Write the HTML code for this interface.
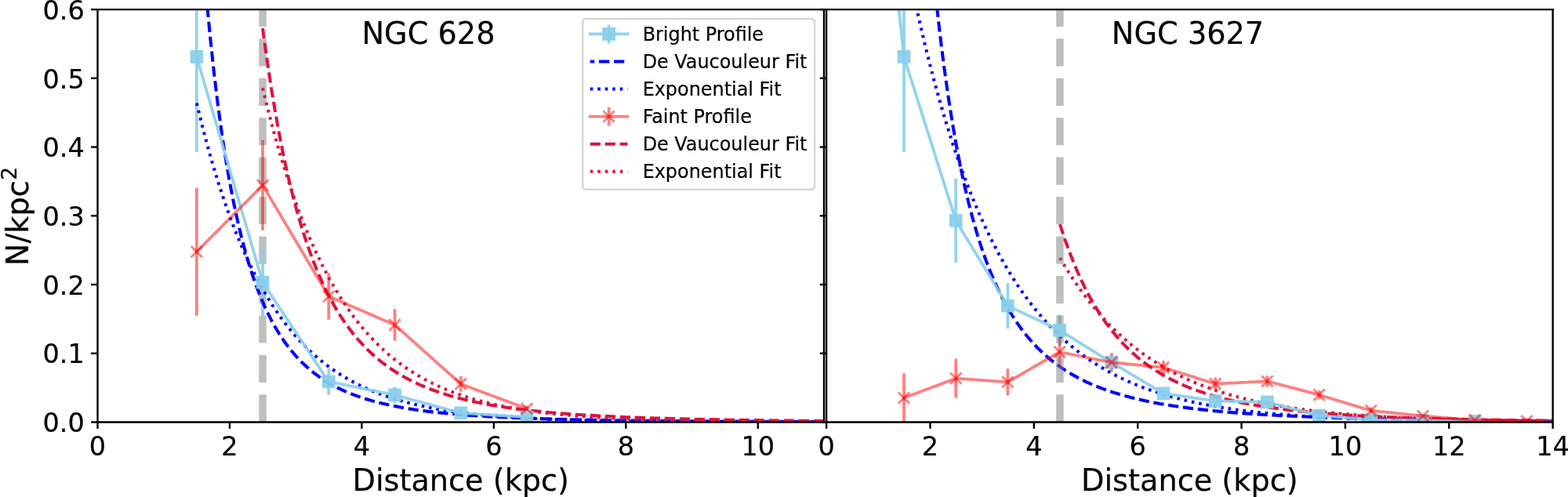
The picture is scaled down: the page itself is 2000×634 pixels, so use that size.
<!DOCTYPE html>
<html><head><meta charset="utf-8"><title>Profiles</title>
<style>html,body{margin:0;padding:0;background:#fff;}svg{display:block;}svg text{stroke:#000;stroke-width:0.08;stroke-linejoin:round;}</style>
</head><body>
<svg width="2000" height="634" viewBox="0 0 836.820 265.271" version="1.1"> <defs> <style type="text/css">*{stroke-linejoin: round; stroke-linecap: butt}</style> </defs> <g id="figure_1"> <g id="patch_1"> <path d="M 0 265.271 L 836.820 265.271 L 836.820 0 L 0 0 z " style="fill: #ffffff"/> </g> <g id="axes_1"> <g id="patch_2"> <path d="M 52.092 225.313 L 439.748 225.313 L 439.748 5.062 L 52.092 5.062 z " style="fill: #ffffff"/> </g> <g id="matplotlib.axis_1"> <g id="xtick_1"> <g id="line2d_1"> <g> <path transform="translate(52.092 225.313)" d="M 0 0 L 0 3.5 " style="stroke: #000000"/> </g> </g> <g id="text_1"> <text style="font-size: 14px; font-family: 'DejaVu Sans', sans-serif; text-anchor: middle" x="52.092" y="242.951" transform="rotate(-0 52.092 242.951)">0</text> </g> </g> <g id="xtick_2"> <g id="line2d_2"> <g> <path transform="translate(122.575 225.313)" d="M 0 0 L 0 3.5 " style="stroke: #000000"/> </g> </g> <g id="text_2"> <text style="font-size: 14px; font-family: 'DejaVu Sans', sans-serif; text-anchor: middle" x="122.575" y="242.951" transform="rotate(-0 122.575 242.951)">2</text> </g> </g> <g id="xtick_3"> <g id="line2d_3"> <g> <path transform="translate(193.058 225.313)" d="M 0 0 L 0 3.5 " style="stroke: #000000"/> </g> </g> <g id="text_3"> <text style="font-size: 14px; font-family: 'DejaVu Sans', sans-serif; text-anchor: middle" x="193.058" y="242.951" transform="rotate(-0 193.058 242.951)">4</text> </g> </g> <g id="xtick_4"> <g id="line2d_4"> <g> <path transform="translate(263.541 225.313)" d="M 0 0 L 0 3.5 " style="stroke: #000000"/> </g> </g> <g id="text_4"> <text style="font-size: 14px; font-family: 'DejaVu Sans', sans-serif; text-anchor: middle" x="263.541" y="242.951" transform="rotate(-0 263.541 242.951)">6</text> </g> </g> <g id="xtick_5"> <g id="line2d_5"> <g> <path transform="translate(334.024 225.313)" d="M 0 0 L 0 3.5 " style="stroke: #000000"/> </g> </g> <g id="text_5"> <text style="font-size: 14px; font-family: 'DejaVu Sans', sans-serif; text-anchor: middle" x="334.024" y="242.951" transform="rotate(-0 334.024 242.951)">8</text> </g> </g> <g id="xtick_6"> <g id="line2d_6"> <g> <path transform="translate(404.507 225.313)" d="M 0 0 L 0 3.5 " style="stroke: #000000"/> </g> </g> <g id="text_6"> <text style="font-size: 14px; font-family: 'DejaVu Sans', sans-serif; text-anchor: middle" x="404.507" y="242.951" transform="rotate(-0 404.507 242.951)">10</text> </g> </g> <g id="text_7"> <text style="font-size: 16px; font-family: 'DejaVu Sans', sans-serif; text-anchor: middle" x="245.920" y="262.020" transform="rotate(-0 245.920 262.020)">Distance (kpc)</text> </g> </g> <g id="matplotlib.axis_2"> <g id="ytick_1"> <g id="line2d_7"> <g> <path transform="translate(52.092 225.313)" d="M 0 0 L -3.5 0 " style="stroke: #000000"/> </g> </g> <g id="text_8"> <text style="font-size: 14px; font-family: 'DejaVu Sans', sans-serif; text-anchor: end" x="45.092" y="230.632" transform="rotate(-0 45.092 230.632)">0.0</text> </g> </g> <g id="ytick_2"> <g id="line2d_8"> <g> <path transform="translate(52.092 188.605)" d="M 0 0 L -3.5 0 " style="stroke: #000000"/> </g> </g> <g id="text_9"> <text style="font-size: 14px; font-family: 'DejaVu Sans', sans-serif; text-anchor: end" x="45.092" y="193.924" transform="rotate(-0 45.092 193.924)">0.1</text> </g> </g> <g id="ytick_3"> <g id="line2d_9"> <g> <path transform="translate(52.092 151.896)" d="M 0 0 L -3.5 0 " style="stroke: #000000"/> </g> </g> <g id="text_10"> <text style="font-size: 14px; font-family: 'DejaVu Sans', sans-serif; text-anchor: end" x="45.092" y="157.215" transform="rotate(-0 45.092 157.215)">0.2</text> </g> </g> <g id="ytick_4"> <g id="line2d_10"> <g> <path transform="translate(52.092 115.188)" d="M 0 0 L -3.5 0 " style="stroke: #000000"/> </g> </g> <g id="text_11"> <text style="font-size: 14px; font-family: 'DejaVu Sans', sans-serif; text-anchor: end" x="45.092" y="120.507" transform="rotate(-0 45.092 120.507)">0.3</text> </g> </g> <g id="ytick_5"> <g id="line2d_11"> <g> <path transform="translate(52.092 78.479)" d="M 0 0 L -3.5 0 " style="stroke: #000000"/> </g> </g> <g id="text_12"> <text style="font-size: 14px; font-family: 'DejaVu Sans', sans-serif; text-anchor: end" x="45.092" y="83.798" transform="rotate(-0 45.092 83.798)">0.4</text> </g> </g> <g id="ytick_6"> <g id="line2d_12"> <g> <path transform="translate(52.092 41.771)" d="M 0 0 L -3.5 0 " style="stroke: #000000"/> </g> </g> <g id="text_13"> <text style="font-size: 14px; font-family: 'DejaVu Sans', sans-serif; text-anchor: end" x="45.092" y="47.090" transform="rotate(-0 45.092 47.090)">0.5</text> </g> </g> <g id="ytick_7"> <g id="line2d_13"> <g> <path transform="translate(52.092 5.062)" d="M 0 0 L -3.5 0 " style="stroke: #000000"/> </g> </g> <g id="text_14"> <text style="font-size: 14px; font-family: 'DejaVu Sans', sans-serif; text-anchor: end" x="45.092" y="10.381" transform="rotate(-0 45.092 10.381)">0.6</text> </g> </g> <g id="text_15"> <g transform="translate(15.467 141.908) rotate(-90)"> <text> <tspan x="0" y="-0.562" style="font-size: 16px; font-family: 'DejaVu Sans', sans-serif">N</tspan> <tspan x="11.968" y="-0.562" style="font-size: 16px; font-family: 'DejaVu Sans', sans-serif">/</tspan> <tspan x="17.359" y="-0.562" style="font-size: 16px; font-family: 'DejaVu Sans', sans-serif">k</tspan> <tspan x="26.625" y="-0.562" style="font-size: 16px; font-family: 'DejaVu Sans', sans-serif">p</tspan> <tspan x="36.781" y="-0.562" style="font-size: 16px; font-family: 'DejaVu Sans', sans-serif">c</tspan> <tspan x="45.731" y="-6.687" style="font-size: 11.2px; font-family: 'DejaVu Sans', sans-serif">2</tspan> </text> </g> </g> </g> <g id="line2d_14"> <path d="M 140.195 225.313 L 140.195 5.062 " clip-path="url(#p777aec0cf6)" style="fill: none; stroke-dasharray: 14.736,6.372; stroke-dashoffset: 0; stroke: #808080; stroke-opacity: 0.5; stroke-width: 4"/> </g> <g id="LineCollection_1"> <path d="M 104.954 81.132 L 104.954 -1 " clip-path="url(#p777aec0cf6)" style="fill: none; stroke: #87ceeb; stroke-opacity: 0.9; stroke-width: 1.6"/> <path d="M 140.195 169.423 L 140.195 132.008 " clip-path="url(#p777aec0cf6)" style="fill: none; stroke: #87ceeb; stroke-opacity: 0.9; stroke-width: 1.6"/> <path d="M 175.437 210.835 L 175.437 196.677 " clip-path="url(#p777aec0cf6)" style="fill: none; stroke: #87ceeb; stroke-opacity: 0.9; stroke-width: 1.6"/> <path d="M 210.678 215.127 L 210.678 206.544 " clip-path="url(#p777aec0cf6)" style="fill: none; stroke: #87ceeb; stroke-opacity: 0.9; stroke-width: 1.6"/> <path d="M 245.920 222.280 L 245.920 218.612 " clip-path="url(#p777aec0cf6)" style="fill: none; stroke: #87ceeb; stroke-opacity: 0.9; stroke-width: 1.6"/> <path d="M 281.162 223.380 L 281.162 221.913 " clip-path="url(#p777aec0cf6)" style="fill: none; stroke: #87ceeb; stroke-opacity: 0.9; stroke-width: 1.6"/> </g> <g id="LineCollection_2"> <path d="M 104.954 168.469 L 104.954 100.243 " clip-path="url(#p777aec0cf6)" style="fill: none; stroke: #ff0000; stroke-opacity: 0.5; stroke-width: 1.6"/> <path d="M 140.195 122.948 L 140.195 74.823 " clip-path="url(#p777aec0cf6)" style="fill: none; stroke: #ff0000; stroke-opacity: 0.5; stroke-width: 1.6"/> <path d="M 175.437 170.670 L 175.437 145.727 " clip-path="url(#p777aec0cf6)" style="fill: none; stroke: #ff0000; stroke-opacity: 0.5; stroke-width: 1.6"/> <path d="M 210.678 181.894 L 210.678 164.948 " clip-path="url(#p777aec0cf6)" style="fill: none; stroke: #ff0000; stroke-opacity: 0.5; stroke-width: 1.6"/> <path d="M 245.920 209.075 L 245.920 200.785 " clip-path="url(#p777aec0cf6)" style="fill: none; stroke: #ff0000; stroke-opacity: 0.5; stroke-width: 1.6"/> <path d="M 281.162 219.602 L 281.162 216.668 " clip-path="url(#p777aec0cf6)" style="fill: none; stroke: #ff0000; stroke-opacity: 0.5; stroke-width: 1.6"/> </g> <g id="line2d_15"> <path d="M 110.202 -1 L 112.077 18.835 L 114.172 38.466 L 116.267 55.807 L 118.362 71.177 L 120.457 84.840 L 122.553 97.022 L 124.648 107.912 L 126.743 117.674 L 128.838 126.445 L 130.933 134.345 L 133.028 141.476 L 135.123 147.927 L 137.218 153.774 L 139.732 160.087 L 142.246 165.726 L 144.760 170.775 L 147.275 175.308 L 149.789 179.385 L 152.303 183.062 L 154.817 186.384 L 157.750 189.864 L 160.683 192.970 L 163.616 195.751 L 166.549 198.244 L 169.901 200.787 L 173.254 203.045 L 176.606 205.055 L 180.377 207.059 L 184.567 209.011 L 188.757 210.715 L 193.366 212.347 L 198.395 213.883 L 203.842 215.306 L 209.708 216.607 L 216.412 217.854 L 223.536 218.950 L 231.497 219.956 L 240.715 220.892 L 251.191 221.730 L 263.342 222.476 L 278.008 223.144 L 295.607 223.715 L 317.815 224.202 L 346.727 224.597 L 386.533 224.902 L 439.748 225.103 L 439.748 225.103 " clip-path="url(#p777aec0cf6)" style="fill: none; stroke-dasharray: 5.55,2.4; stroke-dashoffset: 3.225; stroke: #0000ff; stroke-width: 1.7"/> </g> <g id="line2d_16"> <path d="M 104.954 55.056 L 107.887 67.010 L 110.820 78.125 L 113.753 88.459 L 116.686 98.068 L 119.619 107.002 L 122.553 115.308 L 125.486 123.032 L 128.838 131.197 L 132.190 138.710 L 135.542 145.624 L 138.894 151.985 L 142.246 157.839 L 145.599 163.226 L 148.951 168.182 L 152.303 172.743 L 155.655 176.940 L 159.007 180.801 L 162.359 184.355 L 166.130 188.014 L 169.901 191.347 L 173.673 194.382 L 177.444 197.146 L 181.634 199.928 L 185.824 202.435 L 190.014 204.695 L 194.623 206.924 L 199.233 208.911 L 204.261 210.836 L 209.708 212.666 L 215.155 214.266 L 221.022 215.763 L 227.307 217.142 L 234.430 218.466 L 241.972 219.635 L 250.353 220.701 L 259.571 221.645 L 270.047 222.484 L 281.779 223.199 L 295.607 223.813 L 312.367 224.324 L 333.318 224.725 L 360.973 225.017 L 402.037 225.206 L 439.748 225.271 L 439.748 225.271 " clip-path="url(#p777aec0cf6)" style="fill: none; stroke-dasharray: 1.5,2.475; stroke-dashoffset: 0; stroke: #0000ff; stroke-width: 1.7"/> </g> <g id="line2d_17"> <path d="M 140.195 15.051 L 142.445 31.574 L 144.694 46.527 L 146.944 60.088 L 149.193 72.407 L 151.443 83.619 L 153.692 93.840 L 155.942 103.173 L 158.566 113.060 L 161.190 121.987 L 163.815 130.063 L 166.439 137.383 L 169.063 144.029 L 171.688 150.075 L 174.312 155.583 L 176.937 160.609 L 179.561 165.202 L 182.560 169.978 L 185.559 174.302 L 188.559 178.224 L 191.558 181.788 L 194.557 185.031 L 197.932 188.338 L 201.306 191.324 L 204.680 194.024 L 208.429 196.728 L 212.178 199.156 L 216.302 201.547 L 220.426 203.681 L 224.925 205.753 L 229.799 207.736 L 234.673 209.483 L 239.921 211.138 L 245.545 212.688 L 251.919 214.207 L 258.667 215.585 L 266.165 216.884 L 274.413 218.084 L 283.411 219.169 L 293.534 220.167 L 305.156 221.087 L 318.653 221.923 L 334.399 222.664 L 353.144 223.312 L 375.639 223.860 L 404.132 224.322 L 439.748 224.679 L 439.748 224.679 " clip-path="url(#p777aec0cf6)" style="fill: none; stroke-dasharray: 5.55,2.4; stroke-dashoffset: 0; stroke: #dc143c; stroke-width: 1.7"/> </g> <g id="line2d_18"> <path d="M 140.195 46.998 L 143.195 59.262 L 146.194 70.683 L 149.193 81.319 L 152.193 91.223 L 155.192 100.445 L 158.566 110.065 L 161.940 118.944 L 165.314 127.138 L 168.689 134.701 L 172.063 141.682 L 175.437 148.125 L 178.811 154.071 L 182.185 159.559 L 185.559 164.625 L 188.934 169.300 L 192.308 173.615 L 195.682 177.598 L 199.431 181.665 L 203.180 185.384 L 206.929 188.787 L 210.678 191.900 L 214.802 195.019 L 218.926 197.846 L 223.050 200.410 L 227.549 202.935 L 232.048 205.203 L 236.922 207.402 L 241.796 209.361 L 247.045 211.231 L 252.668 212.992 L 258.667 214.629 L 265.040 216.130 L 271.789 217.491 L 279.287 218.767 L 287.535 219.932 L 296.533 220.968 L 306.655 221.897 L 317.903 222.698 L 331.025 223.398 L 346.396 223.984 L 364.766 224.454 L 388.386 224.823 L 420.253 225.083 L 439.748 225.169 L 439.748 225.169 " clip-path="url(#p777aec0cf6)" style="fill: none; stroke-dasharray: 1.5,2.475; stroke-dashoffset: 0; stroke: #dc143c; stroke-width: 1.7"/> </g> <g id="line2d_19"> <path d="M 104.954 30.329 L 140.195 150.716 L 175.437 203.756 L 210.678 210.835 L 245.920 220.446 L 281.162 222.646 " clip-path="url(#p777aec0cf6)" style="fill: none; stroke: #87ceeb; stroke-opacity: 0.9; stroke-width: 1.6; stroke-linecap: square"/> <g clip-path="url(#p777aec0cf6)"> <path transform="translate(104.954 30.329)" d="M -3 3 L 3 3 L 3 -3 L -3 -3 z " style="fill: #87ceeb; fill-opacity: 0.9; stroke: #87ceeb; stroke-opacity: 0.9; stroke-linejoin: miter"/> <path transform="translate(140.195 150.716)" d="M -3 3 L 3 3 L 3 -3 L -3 -3 z " style="fill: #87ceeb; fill-opacity: 0.9; stroke: #87ceeb; stroke-opacity: 0.9; stroke-linejoin: miter"/> <path transform="translate(175.437 203.756)" d="M -3 3 L 3 3 L 3 -3 L -3 -3 z " style="fill: #87ceeb; fill-opacity: 0.9; stroke: #87ceeb; stroke-opacity: 0.9; stroke-linejoin: miter"/> <path transform="translate(210.678 210.835)" d="M -3 3 L 3 3 L 3 -3 L -3 -3 z " style="fill: #87ceeb; fill-opacity: 0.9; stroke: #87ceeb; stroke-opacity: 0.9; stroke-linejoin: miter"/> <path transform="translate(245.920 220.446)" d="M -3 3 L 3 3 L 3 -3 L -3 -3 z " style="fill: #87ceeb; fill-opacity: 0.9; stroke: #87ceeb; stroke-opacity: 0.9; stroke-linejoin: miter"/> <path transform="translate(281.162 222.646)" d="M -3 3 L 3 3 L 3 -3 L -3 -3 z " style="fill: #87ceeb; fill-opacity: 0.9; stroke: #87ceeb; stroke-opacity: 0.9; stroke-linejoin: miter"/> </g> </g> <g id="line2d_20"> <path d="M 104.954 134.356 L 140.195 98.886 L 175.437 158.198 L 210.678 173.421 L 245.920 204.930 L 281.162 218.135 " clip-path="url(#p777aec0cf6)" style="fill: none; stroke: #ff0000; stroke-opacity: 0.5; stroke-width: 1.6; stroke-linecap: square"/> <g clip-path="url(#p777aec0cf6)"> <path transform="translate(104.954 134.356)" d="M -3 3 L 3 -3 M -3 -3 L 3 3 " style="fill: #ff0000; fill-opacity: 0.5; stroke: #ff0000; stroke-opacity: 0.5; stroke-width: 1.2"/> <path transform="translate(140.195 98.886)" d="M -3 3 L 3 -3 M -3 -3 L 3 3 " style="fill: #ff0000; fill-opacity: 0.5; stroke: #ff0000; stroke-opacity: 0.5; stroke-width: 1.2"/> <path transform="translate(175.437 158.198)" d="M -3 3 L 3 -3 M -3 -3 L 3 3 " style="fill: #ff0000; fill-opacity: 0.5; stroke: #ff0000; stroke-opacity: 0.5; stroke-width: 1.2"/> <path transform="translate(210.678 173.421)" d="M -3 3 L 3 -3 M -3 -3 L 3 3 " style="fill: #ff0000; fill-opacity: 0.5; stroke: #ff0000; stroke-opacity: 0.5; stroke-width: 1.2"/> <path transform="translate(245.920 204.930)" d="M -3 3 L 3 -3 M -3 -3 L 3 3 " style="fill: #ff0000; fill-opacity: 0.5; stroke: #ff0000; stroke-opacity: 0.5; stroke-width: 1.2"/> <path transform="translate(281.162 218.135)" d="M -3 3 L 3 -3 M -3 -3 L 3 3 " style="fill: #ff0000; fill-opacity: 0.5; stroke: #ff0000; stroke-opacity: 0.5; stroke-width: 1.2"/> </g> </g> <g id="patch_3"> <path d="M 52.092 225.313 L 52.092 5.062 " style="fill: none; stroke: #000000; stroke-linejoin: miter; stroke-linecap: square"/> </g> <g id="patch_4"> <path d="M 439.748 225.313 L 439.748 5.062 " style="fill: none; stroke: #000000; stroke-linejoin: miter; stroke-linecap: square"/> </g> <g id="patch_5"> <path d="M 52.092 225.313 L 439.748 225.313 " style="fill: none; stroke: #000000; stroke-linejoin: miter; stroke-linecap: square"/> </g> <g id="patch_6"> <path d="M 52.092 5.062 L 439.748 5.062 " style="fill: none; stroke: #000000; stroke-linejoin: miter; stroke-linecap: square"/> </g> <g id="text_16"> <text style="font-size: 16px; font-family: 'DejaVu Sans', sans-serif; text-anchor: start" x="193.058" y="23.360" transform="rotate(-0 193.058 23.360)">NGC 628</text> </g> <g id="legend_1"> <g id="patch_7"> <path d="M 312.948 101.131 L 432.748 101.131 Q 434.748 101.131 434.748 99.131 L 434.748 12.062 Q 434.748 10.062 432.748 10.062 L 312.948 10.062 Q 310.948 10.062 310.948 12.062 L 310.948 99.131 Q 310.948 101.131 312.948 101.131 z " style="fill: #ffffff; opacity: 0.8; stroke: #cccccc; stroke-linejoin: miter"/> </g> <g id="LineCollection_3"> <path d="M 324.948 23.161 L 324.948 13.161 " style="fill: none; stroke: #87ceeb; stroke-opacity: 0.9; stroke-width: 1.6"/> </g> <g id="line2d_21"> <path d="M 314.948 18.161 L 334.948 18.161 " style="fill: none; stroke: #87ceeb; stroke-opacity: 0.9; stroke-width: 1.6; stroke-linecap: square"/> </g> <g id="line2d_22"> <g> <path transform="translate(324.948 18.161)" d="M -3 3 L 3 3 L 3 -3 L -3 -3 z " style="fill: #87ceeb; fill-opacity: 0.9; stroke: #87ceeb; stroke-opacity: 0.9; stroke-linejoin: miter"/> </g> </g> <g id="text_17"> <text style="font-size: 10px; font-family: 'DejaVu Sans', sans-serif; text-anchor: start" x="342.948" y="21.661" transform="rotate(-0 342.948 21.661)">Bright Profile</text> </g> <g id="line2d_23"> <path d="M 314.948 32.839 L 324.948 32.839 L 334.948 32.839 " style="fill: none; stroke-dasharray: 5.55,2.4; stroke-dashoffset: 3.225; stroke: #0000ff; stroke-width: 1.7"/> </g> <g id="text_18"> <text style="font-size: 10px; font-family: 'DejaVu Sans', sans-serif; text-anchor: start" x="342.948" y="36.339" transform="rotate(-0 342.948 36.339)">De Vaucouleur Fit</text> </g> <g id="line2d_24"> <path d="M 314.948 47.517 L 324.948 47.517 L 334.948 47.517 " style="fill: none; stroke-dasharray: 1.5,2.475; stroke-dashoffset: 0; stroke: #0000ff; stroke-width: 1.7"/> </g> <g id="text_19"> <text style="font-size: 10px; font-family: 'DejaVu Sans', sans-serif; text-anchor: start" x="342.948" y="51.017" transform="rotate(-0 342.948 51.017)">Exponential Fit</text> </g> <g id="LineCollection_4"> <path d="M 324.948 67.195 L 324.948 57.195 " style="fill: none; stroke: #ff0000; stroke-opacity: 0.5; stroke-width: 1.6"/> </g> <g id="line2d_25"> <path d="M 314.948 62.195 L 334.948 62.195 " style="fill: none; stroke: #ff0000; stroke-opacity: 0.5; stroke-width: 1.6; stroke-linecap: square"/> </g> <g id="line2d_26"> <g> <path transform="translate(324.948 62.195)" d="M -3 3 L 3 -3 M -3 -3 L 3 3 " style="fill: #ff0000; fill-opacity: 0.5; stroke: #ff0000; stroke-opacity: 0.5; stroke-width: 1.2"/> </g> </g> <g id="text_20"> <text style="font-size: 10px; font-family: 'DejaVu Sans', sans-serif; text-anchor: start" x="342.948" y="65.695" transform="rotate(-0 342.948 65.695)">Faint Profile</text> </g> <g id="line2d_27"> <path d="M 314.948 76.873 L 324.948 76.873 L 334.948 76.873 " style="fill: none; stroke-dasharray: 5.55,2.4; stroke-dashoffset: 0; stroke: #dc143c; stroke-width: 1.7"/> </g> <g id="text_21"> <text style="font-size: 10px; font-family: 'DejaVu Sans', sans-serif; text-anchor: start" x="342.948" y="80.373" transform="rotate(-0 342.948 80.373)">De Vaucouleur Fit</text> </g> <g id="line2d_28"> <path d="M 314.948 91.551 L 324.948 91.551 L 334.948 91.551 " style="fill: none; stroke-dasharray: 1.5,2.475; stroke-dashoffset: 0; stroke: #dc143c; stroke-width: 1.7"/> </g> <g id="text_22"> <text style="font-size: 10px; font-family: 'DejaVu Sans', sans-serif; text-anchor: start" x="342.948" y="95.051" transform="rotate(-0 342.948 95.051)">Exponential Fit</text> </g> </g> </g> <g id="axes_2"> <g id="patch_8"> <path d="M 441.046 225.313 L 828.702 225.313 L 828.702 5.062 L 441.046 5.062 z " style="fill: #ffffff"/> </g> <g id="matplotlib.axis_3"> <g id="xtick_7"> <g id="line2d_29"> <g> <path transform="translate(441.046 225.313)" d="M 0 0 L 0 3.5 " style="stroke: #000000"/> </g> </g> <g id="text_23"> <text style="font-size: 14px; font-family: 'DejaVu Sans', sans-serif; text-anchor: middle" x="441.046" y="242.951" transform="rotate(-0 441.046 242.951)">0</text> </g> </g> <g id="xtick_8"> <g id="line2d_30"> <g> <path transform="translate(496.425 225.313)" d="M 0 0 L 0 3.5 " style="stroke: #000000"/> </g> </g> <g id="text_24"> <text style="font-size: 14px; font-family: 'DejaVu Sans', sans-serif; text-anchor: middle" x="496.425" y="242.951" transform="rotate(-0 496.425 242.951)">2</text> </g> </g> <g id="xtick_9"> <g id="line2d_31"> <g> <path transform="translate(551.805 225.313)" d="M 0 0 L 0 3.5 " style="stroke: #000000"/> </g> </g> <g id="text_25"> <text style="font-size: 14px; font-family: 'DejaVu Sans', sans-serif; text-anchor: middle" x="551.805" y="242.951" transform="rotate(-0 551.805 242.951)">4</text> </g> </g> <g id="xtick_10"> <g id="line2d_32"> <g> <path transform="translate(607.184 225.313)" d="M 0 0 L 0 3.5 " style="stroke: #000000"/> </g> </g> <g id="text_26"> <text style="font-size: 14px; font-family: 'DejaVu Sans', sans-serif; text-anchor: middle" x="607.184" y="242.951" transform="rotate(-0 607.184 242.951)">6</text> </g> </g> <g id="xtick_11"> <g id="line2d_33"> <g> <path transform="translate(662.564 225.313)" d="M 0 0 L 0 3.5 " style="stroke: #000000"/> </g> </g> <g id="text_27"> <text style="font-size: 14px; font-family: 'DejaVu Sans', sans-serif; text-anchor: middle" x="662.564" y="242.951" transform="rotate(-0 662.564 242.951)">8</text> </g> </g> <g id="xtick_12"> <g id="line2d_34"> <g> <path transform="translate(717.943 225.313)" d="M 0 0 L 0 3.5 " style="stroke: #000000"/> </g> </g> <g id="text_28"> <text style="font-size: 14px; font-family: 'DejaVu Sans', sans-serif; text-anchor: middle" x="717.943" y="242.951" transform="rotate(-0 717.943 242.951)">10</text> </g> </g> <g id="xtick_13"> <g id="line2d_35"> <g> <path transform="translate(773.323 225.313)" d="M 0 0 L 0 3.5 " style="stroke: #000000"/> </g> </g> <g id="text_29"> <text style="font-size: 14px; font-family: 'DejaVu Sans', sans-serif; text-anchor: middle" x="773.323" y="242.951" transform="rotate(-0 773.323 242.951)">12</text> </g> </g> <g id="xtick_14"> <g id="line2d_36"> <g> <path transform="translate(828.702 225.313)" d="M 0 0 L 0 3.5 " style="stroke: #000000"/> </g> </g> <g id="text_30"> <text style="font-size: 14px; font-family: 'DejaVu Sans', sans-serif; text-anchor: middle" x="828.702" y="242.951" transform="rotate(-0 828.702 242.951)">14</text> </g> </g> <g id="text_31"> <text style="font-size: 16px; font-family: 'DejaVu Sans', sans-serif; text-anchor: middle" x="634.874" y="262.020" transform="rotate(-0 634.874 262.020)">Distance (kpc)</text> </g> </g> <g id="matplotlib.axis_4"> <g id="ytick_8"> <g id="line2d_37"> <g> <path transform="translate(441.046 225.313)" d="M 0 0 L -3.5 0 " style="stroke: #000000"/> </g> </g> </g> <g id="ytick_9"> <g id="line2d_38"> <g> <path transform="translate(441.046 188.605)" d="M 0 0 L -3.5 0 " style="stroke: #000000"/> </g> </g> </g> <g id="ytick_10"> <g id="line2d_39"> <g> <path transform="translate(441.046 151.896)" d="M 0 0 L -3.5 0 " style="stroke: #000000"/> </g> </g> </g> <g id="ytick_11"> <g id="line2d_40"> <g> <path transform="translate(441.046 115.188)" d="M 0 0 L -3.5 0 " style="stroke: #000000"/> </g> </g> </g> <g id="ytick_12"> <g id="line2d_41"> <g> <path transform="translate(441.046 78.479)" d="M 0 0 L -3.5 0 " style="stroke: #000000"/> </g> </g> </g> <g id="ytick_13"> <g id="line2d_42"> <g> <path transform="translate(441.046 41.771)" d="M 0 0 L -3.5 0 " style="stroke: #000000"/> </g> </g> </g> <g id="ytick_14"> <g id="line2d_43"> <g> <path transform="translate(441.046 5.062)" d="M 0 0 L -3.5 0 " style="stroke: #000000"/> </g> </g> </g> </g> <g id="LineCollection_5"> <path clip-path="url(#p42757beeb6)" style="fill: none; stroke: #87ceeb; stroke-opacity: 0.9; stroke-width: 1.6"/> <path d="M 482.426 81.132 L 482.426 -1 " clip-path="url(#p42757beeb6)" style="fill: none; stroke: #87ceeb; stroke-opacity: 0.9; stroke-width: 1.6"/> <path d="M 510.125 140.188 L 510.125 95.291 " clip-path="url(#p42757beeb6)" style="fill: none; stroke: #87ceeb; stroke-opacity: 0.9; stroke-width: 1.6"/> <path d="M 537.824 175.328 L 537.824 151.119 " clip-path="url(#p42757beeb6)" style="fill: none; stroke: #87ceeb; stroke-opacity: 0.9; stroke-width: 1.6"/> <path d="M 565.523 184.572 L 565.523 167.992 " clip-path="url(#p42757beeb6)" style="fill: none; stroke: #87ceeb; stroke-opacity: 0.9; stroke-width: 1.6"/> <path d="M 593.221 197.080 L 593.221 189.744 " clip-path="url(#p42757beeb6)" style="fill: none; stroke: #87ceeb; stroke-opacity: 0.9; stroke-width: 1.6"/> <path d="M 620.920 211.862 L 620.920 208.194 " clip-path="url(#p42757beeb6)" style="fill: none; stroke: #87ceeb; stroke-opacity: 0.9; stroke-width: 1.6"/> <path d="M 648.619 215.494 L 648.619 212.559 " clip-path="url(#p42757beeb6)" style="fill: none; stroke: #87ceeb; stroke-opacity: 0.9; stroke-width: 1.6"/> <path d="M 676.317 216.044 L 676.317 213.109 " clip-path="url(#p42757beeb6)" style="fill: none; stroke: #87ceeb; stroke-opacity: 0.9; stroke-width: 1.6"/> <path d="M 704.016 222.940 L 704.016 220.739 " clip-path="url(#p42757beeb6)" style="fill: none; stroke: #87ceeb; stroke-opacity: 0.9; stroke-width: 1.6"/> <path d="M 731.715 224.847 L 731.715 223.380 " clip-path="url(#p42757beeb6)" style="fill: none; stroke: #87ceeb; stroke-opacity: 0.9; stroke-width: 1.6"/> <path d="M 759.414 224.847 L 759.414 224.114 " clip-path="url(#p42757beeb6)" style="fill: none; stroke: #87ceeb; stroke-opacity: 0.9; stroke-width: 1.6"/> <path d="M 787.112 225.288 L 787.112 224.554 " clip-path="url(#p42757beeb6)" style="fill: none; stroke: #87ceeb; stroke-opacity: 0.9; stroke-width: 1.6"/> <path d="M 814.811 229.139 L 814.811 228.405 " clip-path="url(#p42757beeb6)" style="fill: none; stroke: #87ceeb; stroke-opacity: 0.9; stroke-width: 1.6"/> </g> <g id="LineCollection_6"> <path d="M 482.426 225.434 L 482.426 199.318 " clip-path="url(#p42757beeb6)" style="fill: none; stroke: #ff0000; stroke-opacity: 0.5; stroke-width: 1.6"/> <path d="M 510.125 212.376 L 510.125 191.541 " clip-path="url(#p42757beeb6)" style="fill: none; stroke: #ff0000; stroke-opacity: 0.5; stroke-width: 1.6"/> <path d="M 537.824 211.092 L 537.824 196.787 " clip-path="url(#p42757beeb6)" style="fill: none; stroke: #ff0000; stroke-opacity: 0.5; stroke-width: 1.6"/> <path d="M 565.523 195.503 L 565.523 180.244 " clip-path="url(#p42757beeb6)" style="fill: none; stroke: #ff0000; stroke-opacity: 0.5; stroke-width: 1.6"/> <path d="M 593.221 198.474 L 593.221 188.350 " clip-path="url(#p42757beeb6)" style="fill: none; stroke: #ff0000; stroke-opacity: 0.5; stroke-width: 1.6"/> <path d="M 620.920 199.868 L 620.920 192.532 " clip-path="url(#p42757beeb6)" style="fill: none; stroke: #ff0000; stroke-opacity: 0.5; stroke-width: 1.6"/> <path d="M 648.619 208.268 L 648.619 201.518 " clip-path="url(#p42757beeb6)" style="fill: none; stroke: #ff0000; stroke-opacity: 0.5; stroke-width: 1.6"/> <path d="M 676.317 206.507 L 676.317 200.491 " clip-path="url(#p42757beeb6)" style="fill: none; stroke: #ff0000; stroke-opacity: 0.5; stroke-width: 1.6"/> <path d="M 704.016 213.146 L 704.016 208.378 " clip-path="url(#p42757beeb6)" style="fill: none; stroke: #ff0000; stroke-opacity: 0.5; stroke-width: 1.6"/> <path d="M 731.715 220.996 L 731.715 217.328 " clip-path="url(#p42757beeb6)" style="fill: none; stroke: #ff0000; stroke-opacity: 0.5; stroke-width: 1.6"/> <path d="M 759.414 223.123 L 759.414 220.922 " clip-path="url(#p42757beeb6)" style="fill: none; stroke: #ff0000; stroke-opacity: 0.5; stroke-width: 1.6"/> <path d="M 787.112 224.921 L 787.112 223.453 " clip-path="url(#p42757beeb6)" style="fill: none; stroke: #ff0000; stroke-opacity: 0.5; stroke-width: 1.6"/> <path d="M 814.811 225.104 L 814.811 224.370 " clip-path="url(#p42757beeb6)" style="fill: none; stroke: #ff0000; stroke-opacity: 0.5; stroke-width: 1.6"/> </g> <g id="line2d_44"> <path d="M 499.483 -1 L 501.641 18.256 L 503.807 35.488 L 505.973 50.900 L 508.139 64.724 L 510.305 77.161 L 512.471 88.378 L 514.637 98.522 L 516.803 107.717 L 518.969 116.071 L 521.134 123.676 L 523.734 131.930 L 526.333 139.344 L 528.932 146.021 L 531.531 152.049 L 534.130 157.505 L 536.729 162.454 L 539.329 166.953 L 541.928 171.050 L 544.960 175.381 L 547.993 179.283 L 551.025 182.808 L 554.057 185.998 L 557.090 188.893 L 560.555 191.880 L 564.021 194.566 L 567.486 196.987 L 571.385 199.431 L 575.284 201.617 L 579.616 203.783 L 583.948 205.707 L 588.713 207.582 L 593.911 209.380 L 599.543 211.080 L 605.607 212.667 L 612.105 214.131 L 619.036 215.469 L 626.834 216.747 L 635.498 217.936 L 645.028 219.018 L 655.858 220.022 L 668.421 220.953 L 682.716 221.781 L 699.611 222.527 L 719.537 223.176 L 743.796 223.737 L 774.553 224.214 L 814.840 224.603 L 828.702 224.697 L 828.702 224.697 " clip-path="url(#p42757beeb6)" style="fill: none; stroke-dasharray: 5.55,2.4; stroke-dashoffset: 3.33; stroke: #0000ff; stroke-width: 1.7"/> </g> <g id="line2d_45"> <path d="M 487.977 -1 L 491.244 13.677 L 494.710 28.203 L 498.175 41.732 L 501.641 54.333 L 505.106 66.069 L 508.572 76.999 L 512.037 87.179 L 515.503 96.660 L 518.969 105.491 L 522.434 113.715 L 525.900 121.375 L 529.365 128.509 L 532.831 135.153 L 536.296 141.342 L 539.762 147.105 L 543.227 152.473 L 546.693 157.473 L 550.592 162.688 L 554.490 167.503 L 558.389 171.947 L 562.288 176.050 L 566.187 179.837 L 570.085 183.334 L 574.417 186.904 L 578.749 190.171 L 583.081 193.159 L 587.413 195.894 L 592.178 198.634 L 596.943 201.119 L 602.142 203.567 L 607.340 205.767 L 612.972 207.900 L 618.603 209.800 L 624.668 211.615 L 631.166 213.325 L 638.097 214.914 L 645.461 216.373 L 653.259 217.694 L 661.923 218.935 L 671.453 220.068 L 681.850 221.076 L 693.546 221.980 L 706.542 222.760 L 721.703 223.443 L 739.464 224.014 L 761.124 224.480 L 788.849 224.842 L 826.536 225.096 L 828.702 225.105 L 828.702 225.105 " clip-path="url(#p42757beeb6)" style="fill: none; stroke-dasharray: 1.5,2.475; stroke-dashoffset: 3.615; stroke: #0000ff; stroke-width: 1.7"/> </g> <g id="line2d_46"> <path d="M 565.650 119.687 L 568.283 127.669 L 570.917 134.939 L 573.551 141.569 L 576.185 147.626 L 578.819 153.166 L 581.452 158.240 L 584.416 163.448 L 587.379 168.181 L 590.342 172.488 L 593.305 176.414 L 596.268 179.998 L 599.560 183.619 L 602.852 186.902 L 606.145 189.882 L 609.766 192.850 L 613.388 195.527 L 617.338 198.154 L 621.289 200.512 L 625.569 202.798 L 629.849 204.840 L 634.458 206.798 L 639.397 208.657 L 644.664 210.402 L 650.261 212.025 L 656.516 213.600 L 663.101 215.026 L 670.344 216.365 L 678.245 217.600 L 687.135 218.758 L 697.011 219.814 L 708.205 220.779 L 721.045 221.653 L 735.860 222.428 L 753.309 223.109 L 774.380 223.697 L 800.389 224.190 L 828.702 224.540 L 828.702 224.540 " clip-path="url(#p42757beeb6)" style="fill: none; stroke-dasharray: 5.55,2.4; stroke-dashoffset: 0; stroke: #dc143c; stroke-width: 1.7"/> </g> <g id="line2d_47"> <path d="M 565.650 137.606 L 569.271 143.668 L 572.893 149.311 L 576.514 154.564 L 580.136 159.454 L 584.086 164.404 L 588.037 168.982 L 591.988 173.215 L 595.938 177.131 L 599.889 180.752 L 604.169 184.369 L 608.449 187.692 L 612.729 190.745 L 617.338 193.757 L 621.947 196.506 L 626.886 199.187 L 631.824 201.618 L 637.092 203.962 L 642.689 206.199 L 648.286 208.202 L 654.212 210.094 L 660.467 211.865 L 667.381 213.584 L 674.624 215.149 L 682.525 216.620 L 690.756 217.926 L 699.974 219.157 L 709.851 220.249 L 720.716 221.228 L 732.897 222.103 L 746.725 222.871 L 762.857 223.538 L 781.952 224.096 L 805.327 224.547 L 828.702 224.831 L 828.702 224.831 " clip-path="url(#p42757beeb6)" style="fill: none; stroke-dasharray: 1.5,2.475; stroke-dashoffset: 0; stroke: #dc143c; stroke-width: 1.7"/> </g> <g id="line2d_48"> <path d="M 565.650 225.313 L 565.650 5.062 " clip-path="url(#p42757beeb6)" style="fill: none; stroke-dasharray: 14.736,6.372; stroke-dashoffset: 0; stroke: #808080; stroke-opacity: 0.5; stroke-width: 4"/> </g> <g id="line2d_49"> <path d="M 479.089 -1 L 482.426 30.329 L 510.125 117.740 L 537.824 163.224 L 565.523 176.282 L 593.221 193.412 L 620.920 210.028 L 648.619 214.027 L 676.317 214.577 L 704.016 221.840 L 731.715 224.114 L 759.414 224.481 L 787.112 224.921 L 814.811 228.772 " clip-path="url(#p42757beeb6)" style="fill: none; stroke: #87ceeb; stroke-opacity: 0.9; stroke-width: 1.6; stroke-linecap: square"/> <g clip-path="url(#p42757beeb6)"> <path transform="translate(479.089 -1)" d="M -3 3 L 3 3 L 3 -3 L -3 -3 z " style="fill: #87ceeb; fill-opacity: 0.9; stroke: #87ceeb; stroke-opacity: 0.9; stroke-linejoin: miter"/> <path transform="translate(482.426 30.329)" d="M -3 3 L 3 3 L 3 -3 L -3 -3 z " style="fill: #87ceeb; fill-opacity: 0.9; stroke: #87ceeb; stroke-opacity: 0.9; stroke-linejoin: miter"/> <path transform="translate(510.125 117.740)" d="M -3 3 L 3 3 L 3 -3 L -3 -3 z " style="fill: #87ceeb; fill-opacity: 0.9; stroke: #87ceeb; stroke-opacity: 0.9; stroke-linejoin: miter"/> <path transform="translate(537.824 163.224)" d="M -3 3 L 3 3 L 3 -3 L -3 -3 z " style="fill: #87ceeb; fill-opacity: 0.9; stroke: #87ceeb; stroke-opacity: 0.9; stroke-linejoin: miter"/> <path transform="translate(565.523 176.282)" d="M -3 3 L 3 3 L 3 -3 L -3 -3 z " style="fill: #87ceeb; fill-opacity: 0.9; stroke: #87ceeb; stroke-opacity: 0.9; stroke-linejoin: miter"/> <path transform="translate(593.221 193.412)" d="M -3 3 L 3 3 L 3 -3 L -3 -3 z " style="fill: #87ceeb; fill-opacity: 0.9; stroke: #87ceeb; stroke-opacity: 0.9; stroke-linejoin: miter"/> <path transform="translate(620.920 210.028)" d="M -3 3 L 3 3 L 3 -3 L -3 -3 z " style="fill: #87ceeb; fill-opacity: 0.9; stroke: #87ceeb; stroke-opacity: 0.9; stroke-linejoin: miter"/> <path transform="translate(648.619 214.027)" d="M -3 3 L 3 3 L 3 -3 L -3 -3 z " style="fill: #87ceeb; fill-opacity: 0.9; stroke: #87ceeb; stroke-opacity: 0.9; stroke-linejoin: miter"/> <path transform="translate(676.317 214.577)" d="M -3 3 L 3 3 L 3 -3 L -3 -3 z " style="fill: #87ceeb; fill-opacity: 0.9; stroke: #87ceeb; stroke-opacity: 0.9; stroke-linejoin: miter"/> <path transform="translate(704.016 221.840)" d="M -3 3 L 3 3 L 3 -3 L -3 -3 z " style="fill: #87ceeb; fill-opacity: 0.9; stroke: #87ceeb; stroke-opacity: 0.9; stroke-linejoin: miter"/> <path transform="translate(731.715 224.114)" d="M -3 3 L 3 3 L 3 -3 L -3 -3 z " style="fill: #87ceeb; fill-opacity: 0.9; stroke: #87ceeb; stroke-opacity: 0.9; stroke-linejoin: miter"/> <path transform="translate(759.414 224.481)" d="M -3 3 L 3 3 L 3 -3 L -3 -3 z " style="fill: #87ceeb; fill-opacity: 0.9; stroke: #87ceeb; stroke-opacity: 0.9; stroke-linejoin: miter"/> <path transform="translate(787.112 224.921)" d="M -3 3 L 3 3 L 3 -3 L -3 -3 z " style="fill: #87ceeb; fill-opacity: 0.9; stroke: #87ceeb; stroke-opacity: 0.9; stroke-linejoin: miter"/> <path transform="translate(814.811 228.772)" d="M -3 3 L 3 3 L 3 -3 L -3 -3 z " style="fill: #87ceeb; fill-opacity: 0.9; stroke: #87ceeb; stroke-opacity: 0.9; stroke-linejoin: miter"/> </g> </g> <g id="line2d_50"> <path d="M 482.426 212.376 L 510.125 201.959 L 537.824 203.939 L 565.523 187.873 L 593.221 193.412 L 620.920 196.200 L 648.619 204.893 L 676.317 203.499 L 704.016 210.762 L 731.715 219.162 L 759.414 222.023 L 787.112 224.187 L 814.811 224.737 " clip-path="url(#p42757beeb6)" style="fill: none; stroke: #ff0000; stroke-opacity: 0.5; stroke-width: 1.6; stroke-linecap: square"/> <g clip-path="url(#p42757beeb6)"> <path transform="translate(482.426 212.376)" d="M -3 3 L 3 -3 M -3 -3 L 3 3 " style="fill: #ff0000; fill-opacity: 0.5; stroke: #ff0000; stroke-opacity: 0.5; stroke-width: 1.2"/> <path transform="translate(510.125 201.959)" d="M -3 3 L 3 -3 M -3 -3 L 3 3 " style="fill: #ff0000; fill-opacity: 0.5; stroke: #ff0000; stroke-opacity: 0.5; stroke-width: 1.2"/> <path transform="translate(537.824 203.939)" d="M -3 3 L 3 -3 M -3 -3 L 3 3 " style="fill: #ff0000; fill-opacity: 0.5; stroke: #ff0000; stroke-opacity: 0.5; stroke-width: 1.2"/> <path transform="translate(565.523 187.873)" d="M -3 3 L 3 -3 M -3 -3 L 3 3 " style="fill: #ff0000; fill-opacity: 0.5; stroke: #ff0000; stroke-opacity: 0.5; stroke-width: 1.2"/> <path transform="translate(593.221 193.412)" d="M -3 3 L 3 -3 M -3 -3 L 3 3 " style="fill: #ff0000; fill-opacity: 0.5; stroke: #ff0000; stroke-opacity: 0.5; stroke-width: 1.2"/> <path transform="translate(620.920 196.200)" d="M -3 3 L 3 -3 M -3 -3 L 3 3 " style="fill: #ff0000; fill-opacity: 0.5; stroke: #ff0000; stroke-opacity: 0.5; stroke-width: 1.2"/> <path transform="translate(648.619 204.893)" d="M -3 3 L 3 -3 M -3 -3 L 3 3 " style="fill: #ff0000; fill-opacity: 0.5; stroke: #ff0000; stroke-opacity: 0.5; stroke-width: 1.2"/> <path transform="translate(676.317 203.499)" d="M -3 3 L 3 -3 M -3 -3 L 3 3 " style="fill: #ff0000; fill-opacity: 0.5; stroke: #ff0000; stroke-opacity: 0.5; stroke-width: 1.2"/> <path transform="translate(704.016 210.762)" d="M -3 3 L 3 -3 M -3 -3 L 3 3 " style="fill: #ff0000; fill-opacity: 0.5; stroke: #ff0000; stroke-opacity: 0.5; stroke-width: 1.2"/> <path transform="translate(731.715 219.162)" d="M -3 3 L 3 -3 M -3 -3 L 3 3 " style="fill: #ff0000; fill-opacity: 0.5; stroke: #ff0000; stroke-opacity: 0.5; stroke-width: 1.2"/> <path transform="translate(759.414 222.023)" d="M -3 3 L 3 -3 M -3 -3 L 3 3 " style="fill: #ff0000; fill-opacity: 0.5; stroke: #ff0000; stroke-opacity: 0.5; stroke-width: 1.2"/> <path transform="translate(787.112 224.187)" d="M -3 3 L 3 -3 M -3 -3 L 3 3 " style="fill: #ff0000; fill-opacity: 0.5; stroke: #ff0000; stroke-opacity: 0.5; stroke-width: 1.2"/> <path transform="translate(814.811 224.737)" d="M -3 3 L 3 -3 M -3 -3 L 3 3 " style="fill: #ff0000; fill-opacity: 0.5; stroke: #ff0000; stroke-opacity: 0.5; stroke-width: 1.2"/> </g> </g> <g id="patch_9"> <path d="M 441.046 225.313 L 441.046 5.062 " style="fill: none; stroke: #000000; stroke-linejoin: miter; stroke-linecap: square"/> </g> <g id="patch_10"> <path d="M 828.702 225.313 L 828.702 5.062 " style="fill: none; stroke: #000000; stroke-linejoin: miter; stroke-linecap: square"/> </g> <g id="patch_11"> <path d="M 441.046 225.313 L 828.702 225.313 " style="fill: none; stroke: #000000; stroke-linejoin: miter; stroke-linecap: square"/> </g> <g id="patch_12"> <path d="M 441.046 5.062 L 828.702 5.062 " style="fill: none; stroke: #000000; stroke-linejoin: miter; stroke-linecap: square"/> </g> <g id="text_32"> <text style="font-size: 16px; font-family: 'DejaVu Sans', sans-serif; text-anchor: start" x="593.221" y="23.360" transform="rotate(-0 593.221 23.360)">NGC 3627</text> </g> </g> </g> <defs> <clipPath id="p777aec0cf6"> <rect x="52.092" y="5.062" width="387.656" height="220.251"/> </clipPath> <clipPath id="p42757beeb6"> <rect x="441.046" y="5.062" width="387.656" height="220.251"/> </clipPath> </defs> </svg> 
</body></html>
